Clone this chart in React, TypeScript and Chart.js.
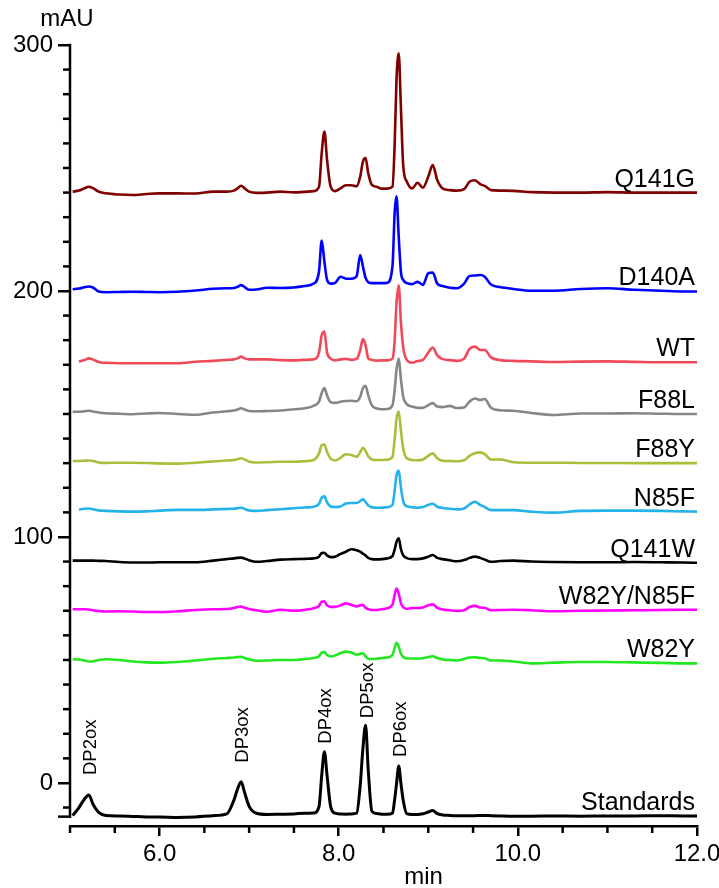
import React, { useEffect, useRef } from 'react';
import { Chart, registerables } from 'chart.js';

Chart.register(...registerables);

// retention time grid (min)
const times = [
  5.03, 5.1, 5.16, 5.21, 5.26, 5.32, 5.4, 5.55, 5.7, 5.85,
  6.0, 6.2, 6.4, 6.6, 6.75, 6.83, 6.87, 6.91, 6.95, 7.0,
  7.08, 7.2, 7.35, 7.5, 7.62, 7.72, 7.78, 7.81, 7.84, 7.87,
  7.91, 7.96, 8.02, 8.08, 8.14, 8.2, 8.24, 8.27, 8.3, 8.33,
  8.37, 8.42, 8.48, 8.54, 8.6, 8.625, 8.645, 8.67, 8.695, 8.72,
  8.76, 8.82, 8.88, 8.94, 9.0, 9.05, 9.1, 9.16, 9.24, 9.32,
  9.4, 9.46, 9.52, 9.58, 9.63, 9.7, 9.8, 9.95, 10.15, 10.4,
  10.7, 11.0, 11.3, 11.6, 11.85, 12.0,
];

const q141g = [
  240.4, 240.8, 241.7, 242.4, 241.7, 240.4, 239.7, 239.2, 239.0, 239.4,
  239.7, 239.7, 239.6, 240.4, 240.4, 240.8, 241.7, 242.8, 241.7, 240.4,
  239.9, 240.0, 240.4, 240.1, 240.3, 240.6, 242.4, 256.0, 264.8, 253.3,
  242.4, 240.6, 241.7, 243.0, 243.0, 242.6, 246.5, 252.6, 254.0, 247.8,
  243.1, 242.4, 241.6, 241.6, 242.4, 260.0, 285.8, 296.6, 274.0, 251.0,
  244.5, 241.7, 244.0, 242.0, 246.5, 251.2, 245.1, 241.7, 241.0, 240.8,
  241.4, 244.4, 245.0, 243.4, 242.7, 241.0, 240.8, 240.7, 240.2, 240.0,
  240.0, 240.2, 240.0, 240.0, 240.0, 240.0,
];

const d140a = [
  200.7, 201.0, 201.5, 201.8, 201.3, 199.8, 199.5, 199.6, 199.7, 199.6,
  199.5, 199.7, 200.2, 200.9, 201.1, 201.2, 201.7, 202.4, 201.6, 200.5,
  200.6, 201.3, 201.2, 201.4, 202.0, 203.0, 208.0, 220.5, 212.0, 204.5,
  203.0, 203.3, 205.8, 205.0, 205.0, 206.0, 214.6, 210.0, 205.3, 203.6,
  203.2, 203.2, 203.2, 203.3, 210.0, 232.0, 238.5, 222.0, 207.6, 204.5,
  203.2, 202.8, 203.7, 202.5, 207.2, 207.5, 203.0, 202.0, 201.3, 201.1,
  203.0, 206.1, 206.3, 206.5, 205.8, 202.6, 201.6, 200.8, 200.1, 200.1,
  200.8, 201.1, 200.5, 200.1, 199.8, 199.8,
];

const wt = [
  null, 171.3, 171.9, 172.6, 172.1, 171.1, 170.8, 170.6, 170.6, 170.6,
  170.6, 170.6, 171.2, 171.6, 172.0, 172.2, 172.6, 173.3, 172.6, 172.2,
  172.2, 172.2, 171.9, 171.8, 172.0, 172.2, 175.0, 182.0, 183.5, 175.0,
  172.5, 171.8, 172.2, 172.4, 172.0, 172.4, 176.0, 180.5, 178.0, 172.6,
  172.0, 171.7, 171.8, 171.8, 172.5, 180.0, 195.0, 202.3, 187.0, 177.0,
  172.0, 170.8, 171.5, 172.0, 175.0, 177.0, 173.8, 172.3, 171.9, 171.6,
  172.5, 176.5, 177.4, 176.0, 176.0, 173.0, 171.9, 171.6, 171.4, 171.1,
  171.3, 171.4, 171.2, 171.0, 171.0, 171.0,
];

const f88l = [
  150.9, 150.9, 151.1, 151.3, 151.0, 150.6, 150.3, 150.1, 149.9, 150.2,
  150.4, 150.0, 149.7, 150.6, 151.1, 151.4, 151.8, 152.3, 151.8, 151.2,
  151.1, 151.2, 151.4, 151.9, 152.3, 153.3, 155.0, 158.5, 160.5, 157.5,
  154.8, 154.5, 155.0, 155.3, 155.4, 155.2, 157.0, 160.5, 161.5, 157.5,
  153.5, 152.3, 151.9, 152.0, 153.5, 160.0, 168.0, 172.5, 164.0, 157.0,
  154.0, 153.0, 152.5, 152.5, 153.6, 154.4, 153.0, 152.8, 153.3, 152.4,
  152.6, 155.0, 156.3, 155.7, 156.1, 152.5, 151.5, 151.3, 150.4, 149.6,
  150.2, 150.2, 150.3, 150.1, 150.0, 150.0,
];

const f88y = [
  130.9, 130.9, 131.0, 131.1, 130.9, 130.3, 130.1, 130.2, 130.2, 130.1,
  129.9, 129.8, 130.2, 130.7, 131.1, 131.3, 131.6, 132.0, 131.5, 130.6,
  130.3, 130.4, 130.6, 130.6, 130.8, 131.3, 134.0, 137.3, 137.6, 134.5,
  131.8, 131.1, 132.2, 133.6, 133.3, 132.6, 134.5, 136.3, 135.0, 132.8,
  131.5, 131.3, 131.3, 131.4, 132.5, 140.0, 148.0, 151.0, 143.0, 136.0,
  132.0, 131.3, 131.2, 131.5, 133.0, 134.0, 132.0, 131.0, 130.9, 130.8,
  131.2, 133.0, 134.0, 134.4, 133.7, 131.5, 131.5, 130.4, 130.2, 130.2,
  130.1, 130.1, 130.0, 130.0, 130.0, 130.0,
];

const n85f = [
  null, 111.1, 111.5, 111.6, 111.3, 110.8, 110.6, 110.4, 110.3, 110.4,
  110.7, 111.0, 111.0, 111.2, 111.4, 111.5, 111.7, 111.9, 111.4, 110.8,
  110.6, 110.9, 111.3, 111.7, 112.0, 112.3, 113.5, 116.0, 116.5, 114.0,
  112.4, 112.2, 112.4, 113.6, 113.8, 113.8, 114.6, 115.3, 114.2, 112.8,
  112.1, 111.9, 111.9, 112.1, 113.0, 119.0, 125.0, 127.0, 120.0, 114.5,
  112.5, 112.1, 111.9, 112.2, 113.0, 113.5, 112.3, 111.8, 111.5, 111.2,
  111.6, 113.2, 114.3, 113.0, 112.2, 110.9, 110.9, 110.9, 110.3, 109.9,
  110.6, 110.7, 110.7, 110.6, 110.4, 110.3,
];

const q141w = [
  90.4, 90.4, 90.4, 90.4, 90.4, 90.3, 90.2, 89.8, 89.6, 89.6,
  89.7, 89.7, 89.7, 90.4, 91.0, 91.3, 91.5, 91.6, 91.2, 90.5,
  89.9, 90.2, 90.8, 91.0, 91.1, 91.3, 92.0, 93.5, 93.6, 92.5,
  91.8, 92.0, 93.1, 94.0, 95.0, 94.6, 94.0, 93.2, 92.5, 91.5,
  91.0, 90.9, 91.0, 91.3, 92.2, 95.0, 98.0, 99.5, 95.0, 92.5,
  91.4, 91.0, 91.0, 91.3, 92.0, 92.7, 91.5, 91.0, 90.5, 90.1,
  90.6, 91.5, 92.0, 91.5, 90.8, 89.9, 90.2, 90.4, 90.0, 89.8,
  89.7, 89.7, 89.8, 89.7, 89.6, 89.5,
];

const w82yN85f = [
  70.6, 70.6, 70.6, 70.5, 70.2, 69.9, 69.7, 69.8, 69.7, 69.5,
  69.5, 69.8, 70.3, 70.6, 70.7, 71.1, 71.5, 71.7, 71.2, 70.7,
  70.2, 69.6, 70.4, 70.0, 70.4, 71.0, 72.0, 73.7, 73.8, 72.2,
  71.6, 71.6, 72.2, 73.0, 72.4, 71.8, 72.2, 72.4, 71.2, 70.6,
  70.3, 70.3, 70.6, 71.0, 72.5, 76.5, 79.0, 77.0, 73.0, 71.5,
  70.8, 71.1, 71.1, 71.3, 72.2, 72.6, 71.2, 70.5, 70.2, 69.9,
  70.2, 71.5, 72.0, 71.3, 71.2, 70.2, 70.3, 70.4, 70.2, 69.8,
  70.0, 70.1, 70.2, 70.3, 70.4, 70.4,
];

const w82y = [
  50.3, 50.2, 49.8, 49.4, 49.5, 50.0, 50.3, 50.0, 49.4, 49.0,
  48.9, 49.2, 49.8, 50.5, 50.8, 51.0, 51.2, 51.3, 50.8, 50.2,
  49.7, 49.8, 50.0, 50.0, 50.4, 50.8, 51.5, 53.0, 53.2, 52.0,
  51.4, 51.8, 52.8, 53.4, 53.0, 52.2, 52.5, 52.7, 51.5, 50.5,
  50.4, 50.5, 50.8, 51.0, 52.0, 55.0, 57.0, 55.5, 52.5, 51.2,
  50.6, 50.6, 50.6, 50.7, 51.2, 51.5, 50.8, 50.2, 50.0, 49.8,
  50.4, 51.0, 51.1, 50.8, 50.7, 49.8, 49.8, 49.4, 48.6, 48.9,
  49.2, 49.2, 49.0, 48.8, 48.6, 48.6,
];

const standards = [
  -13.3, -10.0, -6.6, -4.9, -8.9, -12.0, -13.2, -13.4, -13.6, -13.8,
  -13.8, -14.0, -13.8, -13.3, -12.6, -7.0, -2.5, 0.5, -4.0, -9.5,
  -12.3, -12.8, -12.7, -12.6, -12.3, -12.2, -9.6, 3.0, 12.7, 3.0,
  -9.6, -12.3, -12.6, -12.7, -12.6, -12.3, -1.0, 14.0, 23.5, 5.0,
  -11.5, -12.4, -12.7, -12.7, -12.3, -6.6, -0.5, 6.9, -0.3, -7.0,
  -12.5, -12.8, -12.8, -12.5, -11.8, -11.2, -12.5, -13.0, -13.2, -13.3,
  -13.3, -13.3, -13.3, -13.2, -13.2, -13.3, -13.4, -13.5, -13.5, -13.4,
  -13.5, -13.4, -13.4, -13.3, -13.4, -13.4,
];

const seriesNames = ['Q141G', 'D140A', 'WT', 'F88L', 'F88Y', 'N85F', 'Q141W', 'W82Y/N85F', 'W82Y', 'Standards'];
const seriesValues = [q141g, d140a, wt, f88l, f88y, n85f, q141w, w82yN85f, w82y, standards];
const seriesColors = ['#800000', '#0000ff', '#f04a5a', '#868686', '#a9bf3c', '#23b3e8', '#000000', '#ff00ff', '#22e822', '#000000'];
const seriesWidths = [2.6, 2.6, 2.6, 2.6, 2.6, 2.6, 2.6, 2.6, 2.6, 3.0];

const peakLabels = ['DP2ox', 'DP3ox', 'DP4ox', 'DP5ox', 'DP6ox'];
const peakTimes = [5.21, 6.91, 7.84, 8.3, 8.67];
const peakLabelGaps = [20, 19, 8, 7, 9];

const xMin = 5;
const xMax = 12;
const yMin = -17.5;
const yMax = 300;
const yAxisEnd = -13.7;

const FONT = '"Liberation Sans", Arial, Helvetica, sans-serif';

const decorPlugin = {
  id: 'decor',
  afterDraw(chart: any) {
    const { ctx, chartArea } = chart;
    const x = chart.scales.x;
    const y = chart.scales.y;
    const left = chartArea.left;
    const bottom = chartArea.bottom;
    ctx.save();
    ctx.strokeStyle = '#000';
    ctx.lineWidth = 2.5;
    ctx.lineCap = 'butt';
    const line = (x1: number, y1: number, x2: number, y2: number) => {
      ctx.beginPath();
      ctx.moveTo(x1, y1);
      ctx.lineTo(x2, y2);
      ctx.stroke();
    };
    // y spine
    const yTop = y.getPixelForValue(yMax);
    const yBot = y.getPixelForValue(yAxisEnd);
    line(left, yTop - 1.25, left, yBot + 1.25);
    line(left - 12, yBot, left, yBot);
    // y minor ticks
    for (let v = -10; v < yMax; v += 10) {
      if (v % 100 === 0) continue;
      const p = y.getPixelForValue(v);
      line(left - 7, p, left, p);
    }
    // x minor ticks
    for (let t = xMin; t < xMax; t += 0.5) {
      if (Math.abs(t % 2) < 1e-6) continue;
      const p = x.getPixelForValue(t);
      line(p, bottom, p, bottom + 7);
    }

    ctx.fillStyle = '#000';
    // series labels
    ctx.font = `25px ${FONT}`;
    ctx.textAlign = 'right';
    ctx.textBaseline = 'alphabetic';
    seriesNames.forEach((name, i) => {
      const vals = seriesValues[i];
      const last = vals[vals.length - 1] as number;
      ctx.fillText(name, chartArea.right - 2, y.getPixelForValue(last) - 6);
    });

    // peak labels (rotated)
    ctx.font = `18.5px ${FONT}`;
    peakLabels.forEach((lab, i) => {
      const t = peakTimes[i];
      let peak = -Infinity;
      times.forEach((tt, k) => {
        if (Math.abs(tt - t) < 0.06 && (standards[k] as number) > peak) peak = standards[k] as number;
      });
      const cx = x.getPixelForValue(t);
      const by = y.getPixelForValue(peak) - peakLabelGaps[i];
      ctx.save();
      ctx.translate(cx + 7, by);
      ctx.rotate(-Math.PI / 2);
      ctx.textAlign = 'left';
      ctx.textBaseline = 'alphabetic';
      ctx.fillText(lab, 0, 0);
      ctx.restore();
    });

    // axis titles
    ctx.font = `24px ${FONT}`;
    ctx.textAlign = 'center';
    ctx.textBaseline = 'alphabetic';
    ctx.fillText('mAU', left - 3, chartArea.top - 19);
    ctx.fillText('min', left + (chartArea.right - left) * 0.564, 884);
    ctx.restore();
  },
};

export default function App() {
  const canvasRef = useRef<HTMLCanvasElement | null>(null);

  useEffect(() => {
    const canvas = canvasRef.current;
    if (!canvas) return;
    const chart = new Chart(canvas, {
      type: 'line',
      data: {
        datasets: seriesNames.map((name, i) => ({
          label: name,
          data: times.map((t, k) => ({ x: t, y: seriesValues[i][k] as any })),
          borderColor: seriesColors[i],
          backgroundColor: seriesColors[i],
          borderWidth: seriesWidths[i],
          pointRadius: 0,
          fill: false,
          cubicInterpolationMode: 'monotone' as const,
          spanGaps: false,
        })),
      },
      options: {
        responsive: false,
        animation: false,
        devicePixelRatio: 1,
        layout: { padding: { top: 45, right: 22, left: 0, bottom: 0 } },
        plugins: {
          legend: { display: false },
          tooltip: { enabled: false },
          title: { display: false },
        },
        elements: { point: { radius: 0 } },
        scales: {
          x: {
            type: 'linear',
            min: xMin,
            max: xMax,
            afterFit: (s: any) => {
              s.height = 62;
              s.paddingLeft = 0;
              s.paddingRight = 0;
            },
            border: { display: true, color: '#000', width: 2.5 },
            grid: {
              display: true,
              drawOnChartArea: false,
              drawTicks: true,
              tickLength: 10,
              color: '#000',
              lineWidth: 2.5,
            },
            ticks: {
              stepSize: 2,
              includeBounds: false,
              autoSkip: false,
              maxRotation: 0,
              callback: (v: any) => Number(v).toFixed(1),
              font: { family: FONT, size: 24 },
              color: '#000',
              padding: 4,
            },
          },
          y: {
            type: 'linear',
            min: yMin,
            max: yMax,
            afterFit: (s: any) => {
              s.width = 70;
            },
            border: { display: false },
            grid: {
              display: true,
              drawOnChartArea: false,
              drawTicks: true,
              tickLength: 12,
              color: '#000',
              lineWidth: 2.5,
            },
            ticks: {
              stepSize: 100,
              includeBounds: false,
              autoSkip: false,
              callback: (v: any) => String(v),
              font: { family: FONT, size: 24 },
              color: '#000',
              padding: 5,
            },
          },
        },
      } as any,
      plugins: [decorPlugin],
    });
    return () => chart.destroy();
  }, []);

  return (
    <div style={{ position: 'fixed', left: 0, top: 0, width: 719, height: 888, background: '#fff' }}>
      <canvas ref={canvasRef} width={719} height={888} style={{ display: 'block', width: 719, height: 888 }} />
    </div>
  );
}
